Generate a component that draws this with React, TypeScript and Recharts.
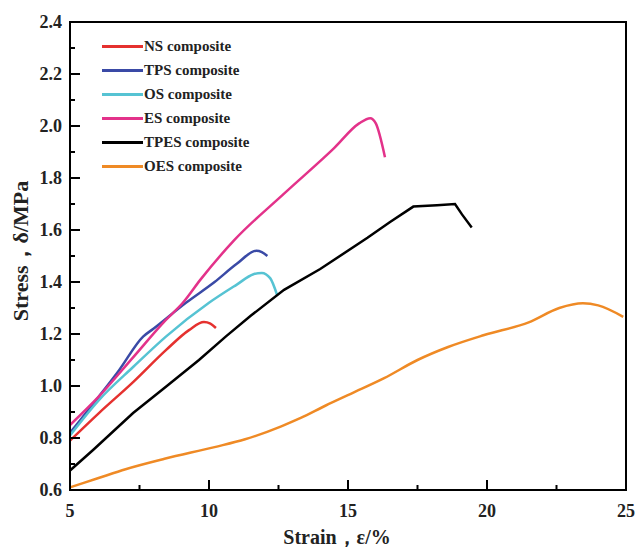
import React from 'react';
import { LineChart, Line, XAxis, YAxis } from 'recharts';

const nsStrain = [5, 6.04, 7.27, 8.45, 9.28, 9.82, 10.05, 10.25];
const nsStress = [0.79, 0.896, 1.015, 1.138, 1.215, 1.246, 1.24, 1.223];

const tpsStrain = [5, 6.04, 6.76, 7.63, 8.0, 9.17, 10.2, 11.0, 11.7, 11.9, 12.1];
const tpsStress = [0.82, 0.96, 1.06, 1.19, 1.22, 1.32, 1.4, 1.47, 1.52, 1.515, 1.5];

const osStrain = [5, 6.04, 7.27, 8.45, 10.0, 11.0, 11.6, 11.9, 12.2, 12.45];
const osStress = [0.81, 0.946, 1.073, 1.19, 1.32, 1.39, 1.43, 1.435, 1.415, 1.35];

const esStrain = [5, 6.04, 7.27, 8.45, 9.06, 9.7, 10.9, 12.7, 14.5, 15.4, 15.8, 16.0, 16.33];
const esStress = [0.85, 0.96, 1.11, 1.254, 1.32, 1.41, 1.56, 1.74, 1.915, 2.01, 2.03, 2.01, 1.88];

const tpesStrain = [5, 5.83, 7.27, 8.45, 9.64, 10.6, 11.5, 12.7, 14.0, 15.7, 16.5, 17.35, 18.2, 18.85, 19.1, 19.45];
const tpesStress = [0.675, 0.754, 0.896, 0.997, 1.1, 1.19, 1.27, 1.37, 1.45, 1.57, 1.63, 1.69, 1.695, 1.7, 1.66, 1.61];

const oesStrain = [5, 6, 7, 8.4, 10.2, 11.3, 12.6, 13.3, 14.2, 15.1, 16.3, 17.5, 18.6, 19.9, 21.5, 22.6, 23.45, 24.0, 24.9];
const oesStress = [0.61, 0.645, 0.68, 0.72, 0.765, 0.795, 0.845, 0.877, 0.925, 0.97, 1.03, 1.1, 1.15, 1.196, 1.245, 1.3, 1.318, 1.31, 1.266];

const xTicks = [5, 7.5, 10, 12.5, 15, 17.5, 20, 22.5, 25];
const yTicks = [0.6, 0.7, 0.8, 0.9, 1.0, 1.1, 1.2, 1.3, 1.4, 1.5, 1.6, 1.7, 1.8, 1.9, 2.0, 2.1, 2.2, 2.3, 2.4];

const zip = (xs: number[], ys: number[]) => xs.map((x, i) => ({ x, y: ys[i] }));

const series = [
  { name: 'NS composite', color: '#e5312f', data: zip(nsStrain, nsStress), type: 'monotone' },
  { name: 'TPS composite', color: '#3a4aa6', data: zip(tpsStrain, tpsStress), type: 'monotone' },
  { name: 'OS composite', color: '#56c3d3', data: zip(osStrain, osStress), type: 'monotone' },
  { name: 'ES composite', color: '#e3328a', data: zip(esStrain, esStress), type: 'monotone' },
  { name: 'TPES composite', color: '#000000', data: zip(tpesStrain, tpesStress), type: 'linear' },
  { name: 'OES composite', color: '#ef8a25', data: zip(oesStrain, oesStress), type: 'monotone' },
];

const font = '"Liberation Serif", "Times New Roman", serif';

// plot box: left axis width 70, top margin 22, bottom axis height 58, right margin 10
const W = 636;
const H = 548;
const plot = { left: 70, top: 22, right: 10, bottom: 58 };

const XTick = (props: any) => {
  const { x, y, payload } = props;
  const major = payload.value % 5 === 0;
  return (
    <g>
      <line x1={x} y1={y} x2={x} y2={y - (major ? 10 : 5)} stroke="#000" strokeWidth={2} />
      {major && (
        <text x={x} y={y + 27} textAnchor="middle" fontFamily={font} fontWeight="bold" fontSize={18} fill="#222">
          {payload.value}
        </text>
      )}
    </g>
  );
};

const YTick = (props: any) => {
  const { x, y, payload } = props;
  const major = Math.round(payload.value * 10) % 2 === 0;
  return (
    <g>
      <line x1={x} y1={y} x2={x + (major ? 10 : 5)} y2={y} stroke="#000" strokeWidth={2} />
      {major && (
        <text x={x - 8} y={y + 6} textAnchor="end" fontFamily={font} fontWeight="bold" fontSize={18} fill="#222">
          {payload.value.toFixed(1)}
        </text>
      )}
    </g>
  );
};

export default function App() {
  return (
    <div style={{ position: 'absolute', left: 0, top: 0, width: W, height: H, background: '#fff' }}>
      <LineChart width={W} height={H} margin={{ top: plot.top, right: plot.right, left: 0, bottom: 0 }}>
        <XAxis
          type="number"
          dataKey="x"
          domain={[5, 25]}
          ticks={xTicks}
          tickSize={0}
          tickMargin={0}
          tick={<XTick />}
          axisLine={{ stroke: '#000', strokeWidth: 2 }}
          height={plot.bottom}
        />
        <YAxis
          type="number"
          domain={[0.6, 2.4]}
          ticks={yTicks}
          tickSize={0}
          tickMargin={0}
          tick={<YTick />}
          axisLine={{ stroke: '#000', strokeWidth: 2 }}
          width={plot.left}
        />
        {series.map((s) => (
          <Line
            key={s.name}
            data={s.data}
            dataKey="y"
            name={s.name}
            type={s.type as any}
            stroke={s.color}
            strokeWidth={2.5}
            dot={false}
            isAnimationActive={false}
          />
        ))}
      </LineChart>
      <svg style={{ position: 'absolute', left: 0, top: 0, pointerEvents: 'none' }} width={W} height={H}>
        <rect
          x={plot.left}
          y={plot.top}
          width={W - plot.left - plot.right}
          height={H - plot.top - plot.bottom}
          fill="none"
          stroke="#000"
          strokeWidth={2}
        />
        <text x={337} y={544} textAnchor="middle" fontFamily={font} fontWeight="bold" fontSize={20} fill="#222">
          Strain，ε/%
        </text>
        <text
          x={20}
          y={251}
          transform="rotate(-90 20 251)"
          textAnchor="middle"
          dominantBaseline="central"
          fontFamily={font}
          fontWeight="bold"
          fontSize={22}
          fill="#222"
        >
          Stress，δ/MPa
        </text>
      </svg>
      <div
        style={{
          position: 'absolute',
          left: 102,
          top: 34,
          fontFamily: font,
          fontWeight: 'bold',
          fontSize: 15,
          color: '#222',
        }}
      >
        {series.map((s) => (
          <div key={s.name} style={{ display: 'flex', alignItems: 'center', height: 24 }}>
            <span style={{ display: 'inline-block', width: 41, height: 3, background: s.color }} />
            <span style={{ marginLeft: 1 }}>{s.name}</span>
          </div>
        ))}
      </div>
    </div>
  );
}
